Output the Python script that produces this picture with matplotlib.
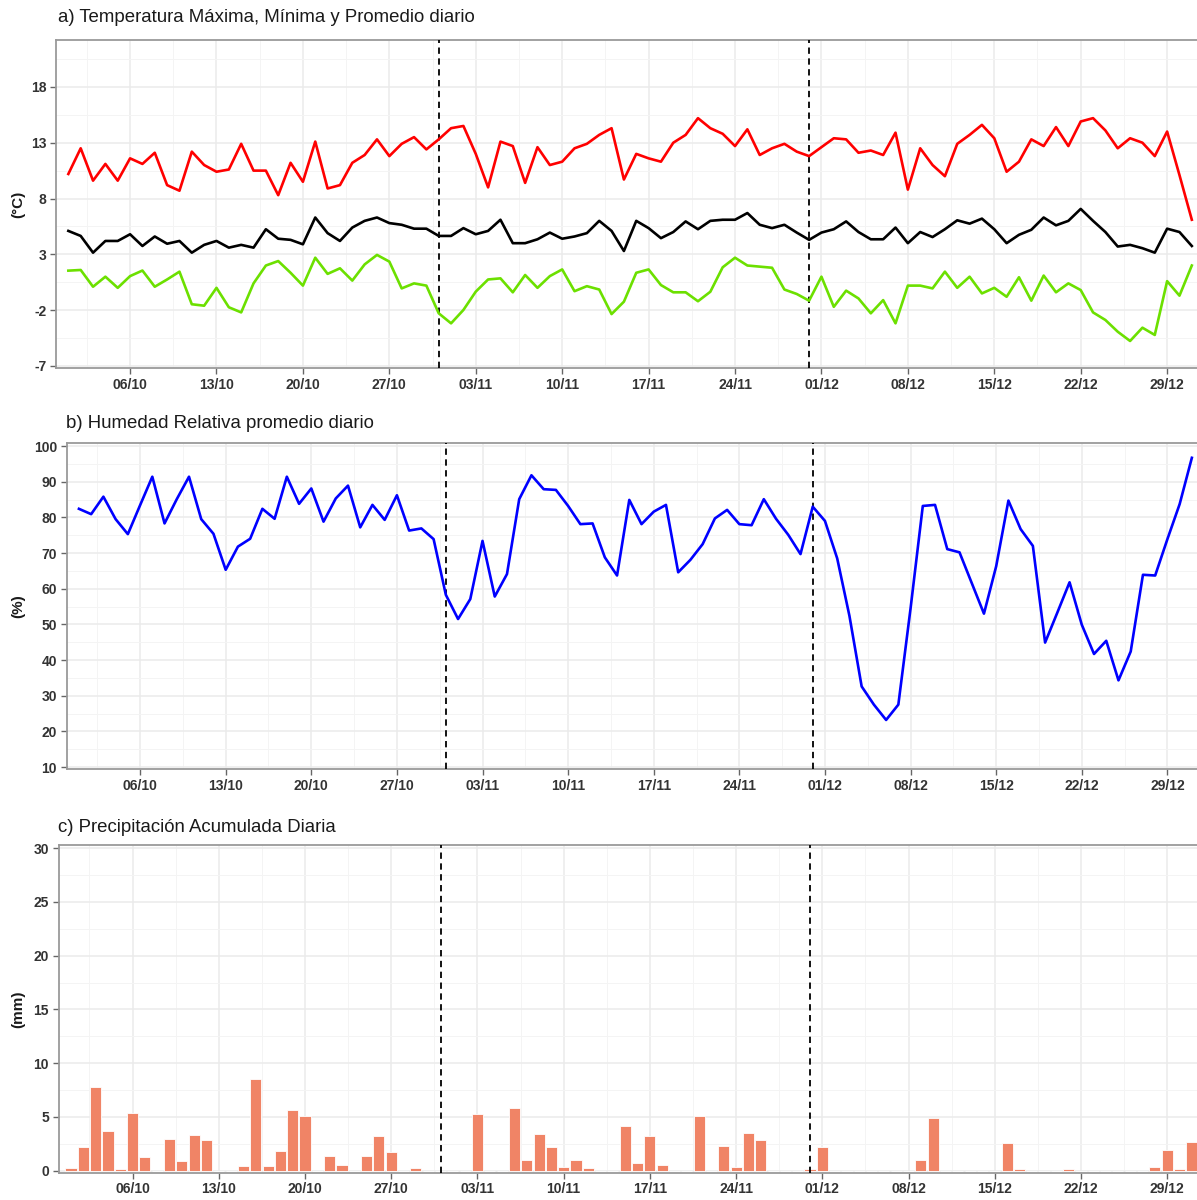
import matplotlib
matplotlib.use("Agg")
import matplotlib.pyplot as plt
import matplotlib.dates as mdates
import pandas as pd

plt.rcParams["font.family"] = ["Liberation Sans", "DejaVu Sans"]
plt.rcParams["axes.unicode_minus"] = False

# daily series, 01/10 .. 31/12
fechas = pd.date_range("2023-10-01", "2023-12-31", freq="D")

tmax = [10.2, 12.5, 9.6, 11.1, 9.6, 11.6, 11.1, 12.1, 9.2, 8.7,
        12.2, 11.0, 10.4, 10.6, 12.9, 10.5, 10.5, 8.3, 11.2, 9.5,
        13.1, 8.9, 9.2, 11.2, 11.9, 13.3, 11.8, 12.9, 13.5, 12.4,
        13.3, 14.3, 14.5, 12.0, 9.0, 13.1, 12.7, 9.4, 12.6, 11.0,
        11.3, 12.5, 12.9, 13.7, 14.3, 9.7, 12.0, 11.6, 11.3, 13.0,
        13.7, 15.2, 14.3, 13.8, 12.7, 14.2, 11.9, 12.5, 12.9, 12.2,
        11.8, 12.6, 13.4, 13.3, 12.1, 12.3, 11.9, 13.9, 8.8, 12.5,
        11.0, 10.0, 12.9, 13.7, 14.6, 13.4, 10.4, 11.3, 13.3, 12.7,
        14.4, 12.7, 14.9, 15.2, 14.1, 12.5, 13.4, 13.0, 11.8, 14.0,
        10.1, 6.1]

tmed = [5.1, 4.65, 3.15, 4.2, 4.2, 4.8, 3.75, 4.6, 3.95, 4.2,
        3.15, 3.85, 4.2, 3.6, 3.85, 3.6, 5.25, 4.4, 4.3, 3.9,
        6.3, 4.9, 4.2, 5.4, 6.0, 6.3, 5.8, 5.65, 5.3, 5.3,
        4.65, 4.65, 5.35, 4.8, 5.1, 6.1, 4.0, 4.0, 4.35, 4.95,
        4.4, 4.6, 4.9, 6.0, 5.1, 3.3, 6.0, 5.35, 4.45, 5.0,
        5.95, 5.25, 6.0, 6.1, 6.1, 6.7, 5.65, 5.35, 5.65, 4.95,
        4.3, 4.95, 5.25, 5.95, 5.0, 4.35, 4.35, 5.4, 4.0, 5.0,
        4.55, 5.25, 6.05, 5.75, 6.2, 5.25, 4.0, 4.75, 5.2, 6.3,
        5.6, 6.0, 7.07, 6.0, 5.0, 3.7, 3.85, 3.55, 3.15, 5.3,
        5.0, 3.75]

tmin = [1.54, 1.6, 0.1, 1.0, 0.0, 1.05, 1.55, 0.1, 0.75, 1.45,
        -1.47, -1.6, 0.0, -1.74, -2.2, 0.4, 2.0, 2.4, 1.35, 0.2,
        2.7, 1.25, 1.75, 0.65, 2.1, 2.95, 2.35, -0.05, 0.4, 0.2,
        -2.28, -3.18, -1.98, -0.34, 0.75, 0.85, -0.4, 1.15, 0.0, 1.05,
        1.65, -0.3, 0.15, -0.15, -2.35, -1.24, 1.35, 1.65, 0.25, -0.4,
        -0.4, -1.2, -0.35, 1.84, 2.7, 2.0, 1.9, 1.8, -0.15, -0.55,
        -1.15, 1.0, -1.7, -0.25, -0.95, -2.28, -1.1, -3.18, 0.2, 0.2,
        -0.05, 1.45, 0.0, 1.0, -0.5, 0.0, -0.8, 0.95, -1.15, 1.1,
        -0.4, 0.4, -0.2, -2.2, -2.88, -3.93, -4.76, -3.57, -4.22, 0.6,
        -0.7, 2.0]

hr = [82.4, 80.9, 85.8, 79.5, 75.3, 83.4, 91.4, 78.3, 85.1, 91.4,
      79.5, 75.4, 65.3, 71.8, 74.0, 82.4, 79.6, 91.4, 83.8, 88.1,
      78.8, 85.3, 88.9, 77.2, 83.5, 79.3, 86.2, 76.3, 76.9, 73.9,
      58.3, 51.5, 57.1, 73.4, 57.8, 64.1, 85.1, 91.8, 87.9, 87.7,
      83.2, 78.1, 78.3, 68.8, 63.7, 84.9, 78.1, 81.6, 83.5, 64.6,
      68.1, 72.5, 79.7, 82.1, 78.1, 77.8, 85.1, 79.6, 75.1, 69.7,
      83.0, 79.0, 68.5, 52.4, 32.6, 27.5, 23.2, 27.5, 54.5, 83.2,
      83.5, 71.1, 70.2, 61.6, 53.0, 66.3, 84.7, 76.7, 72.0, 44.9,
      53.3, 61.8, 49.9, 41.7, 45.4, 34.3, 42.4, 63.9, 63.7, 73.9,
      83.7, 96.7]

pp = [0.2, 2.2, 7.8, 3.7, 0.15, 5.4, 1.3, 0.0, 2.9, 0.9,
      3.3, 2.8, 0.0, 0.0, 0.4, 8.5, 0.4, 1.8, 5.6, 5.1,
      0.0, 1.4, 0.5, 0.0, 1.4, 3.2, 1.7, 0.0, 0.2, 0.0,
      0.0, 0.0, 0.0, 5.3, 0.0, 0.0, 5.8, 1.0, 3.4, 2.2,
      0.3, 1.0, 0.25, 0.0, 0.0, 4.1, 0.7, 3.2, 0.5, 0.0,
      0.0, 5.1, 0.0, 2.3, 0.3, 3.5, 2.8, 0.0, 0.0, 0.0,
      0.15, 2.2, 0.0, 0.0, 0.0, 0.0, 0.0, 0.0, 0.0, 1.0,
      4.9, 0.0, 0.0, 0.0, 0.0, 0.0, 2.6, 0.15, 0.0, 0.0,
      0.0, 0.1, 0.0, 0.0, 0.0, 0.0, 0.0, 0.0, 0.3, 1.9,
      0.15, 2.7]

cortes = pd.to_datetime(["2023-10-31", "2023-11-30"])

W, H = 1197, 1200
fig = plt.figure(figsize=(W / 100, H / 100), dpi=100)


def px_axes(left, top, bottom, right=W):
    return fig.add_axes([left / W, 1 - bottom / H, (right - left) / W, (bottom - top) / H])


def estilo(ax, yticks, yminor, ylim):
    dia = pd.Timedelta(days=1)
    major = pd.date_range("2023-10-06", "2023-12-29", freq="7D")
    minor = pd.date_range("2023-10-02 12:00", "2023-12-26 12:00", freq="7D")
    ax.set_xticks(major)
    ax.set_xticks(minor, minor=True)
    ax.xaxis.set_major_formatter(mdates.DateFormatter("%d/%m"))
    ax.set_yticks(yticks)
    ax.set_yticks(yminor, minor=True)
    # limits after the ticks, so set_xticks cannot widen them
    ax.set_xlim(fechas[0] - 1.0 * dia, fechas[-1] + 0.42 * dia)
    ax.set_ylim(*ylim)
    ax.grid(which="major", color="#EBEBEB", lw=1.1, zorder=0)
    ax.grid(which="minor", color="#F4F4F4", lw=0.7, zorder=0)
    ax.set_axisbelow(True)
    for s in ("left", "bottom", "top"):
        ax.spines[s].set_color("#9A9A9A")
        ax.spines[s].set_linewidth(1.3)
    ax.spines["right"].set_visible(False)
    ax.tick_params(which="major", length=4, width=1, color="#666666",
                   labelsize=10, labelcolor="#333333", pad=3)
    ax.tick_params(which="minor", length=0)
    for lab in ax.get_xticklabels() + ax.get_yticklabels():
        lab.set_fontweight("bold")
    for c in cortes:
        ax.axvline(c, color="black", ls=(0, (3.5, 2.5)), lw=1.3, zorder=3)


# a) temperatures
ax1 = px_axes(56, 40, 368)
ax1.plot(fechas, tmax, color="#FF0000", lw=1.9, zorder=4)
ax1.plot(fechas, tmed, color="black", lw=1.9, zorder=4)
ax1.plot(fechas, tmin, color="#6CE000", lw=1.9, zorder=4)
estilo(ax1, [-7, -2, 3, 8, 13, 18], [-4.5, 0.5, 5.5, 10.5, 15.5, 20.5], (-7.18, 22.2))

# b) relative humidity
ax2 = px_axes(66.7, 443, 769)
ax2.plot(fechas, hr, color="#0000FF", lw=1.9, zorder=4)
estilo(ax2, range(10, 101, 10), range(15, 100, 10), (9.45, 100.85))

# c) precipitation
ax3 = px_axes(58.7, 845, 1172.7)
ax3.bar(fechas, pp, width=0.9, color="#F08466", edgecolor="white", lw=0.6, zorder=2)
estilo(ax3, range(0, 31, 5), [2.5, 7.5, 12.5, 17.5, 22.5, 27.5], (-0.2, 30.3))

tit = dict(fontsize=13.4, color="#1A1A1A", va="center", ha="left")
fig.text(58 / W, 1 - 18 / H, "a) Temperatura Máxima, Mínima y Promedio diario", **tit)
fig.text(66 / W, 1 - 424 / H, "b) Humedad Relativa promedio diario", **tit)
fig.text(58 / W, 1 - 828 / H, "c) Precipitación Acumulada Diaria", **tit)

ylab = dict(fontsize=11, fontweight="bold", rotation=90, va="center", ha="center", color="#1A1A1A")
fig.text(18 / W, 1 - 204 / H, "(°C)", **ylab)
fig.text(18 / W, 1 - 606 / H, "(%)", **ylab)
fig.text(18 / W, 1 - 1009 / H, "(mm)", **ylab)

fig.savefig("out.png", dpi=100)
